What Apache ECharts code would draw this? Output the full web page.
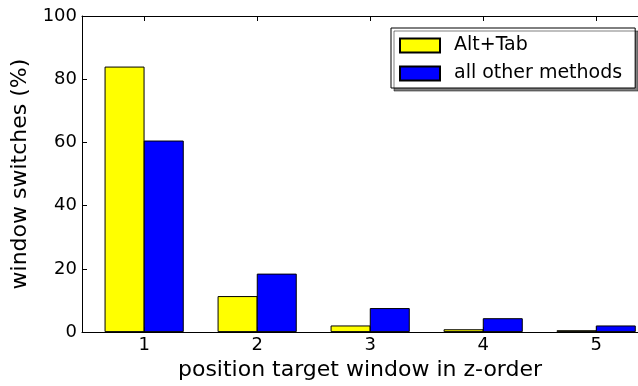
<!DOCTYPE html>
<html><head><meta charset="utf-8">
<script src="https://cdn.jsdelivr.net/npm/echarts@6/dist/echarts.min.js"></script>
<style>html,body{margin:0;padding:0;background:#fff}#c{width:638px;height:386px}</style>
</head><body><div id="c"></div>
<script>
const positions = [1, 2, 3, 4, 5];
const altTab = [84.0, 11.4, 2.1, 0.9, 0.6];
const otherMethods = [60.6, 18.5, 7.6, 4.4, 2.1];
const yTicks = [0, 20, 40, 60, 80, 100];
const seriesNames = ['Alt+Tab', 'all other methods'];

const font = 'DejaVu Sans';
const chart = echarts.init(document.getElementById('c'), null, {renderer: 'canvas'});
const barW = 40;
const axisCommon = {
  type: 'value', min: 0.45, max: 5.37,
  splitLine: {show: false},
  axisLine: {show: true, onZero: false, lineStyle: {color: '#000', width: 1}},
  axisTick: {show: true, inside: true, length: 5, lineStyle: {color: '#000'}, customValues: positions},
};
chart.setOption({
  animation: false,
  textStyle: {fontFamily: font},
  grid: {left: 82, right: 0, top: 16, bottom: 52, containLabel: false},
  legend: {
    orient: 'vertical', left: 391, top: 28,
    itemWidth: 40, itemHeight: 14, itemGap: 9,
    icon: 'rect',
    padding: [8, 13, 5, 8],
    backgroundColor: '#fff', borderColor: '#000', borderWidth: 1, borderRadius: 0,
    shadowColor: 'rgba(0,0,0,0.5)', shadowBlur: 0, shadowOffsetX: 3, shadowOffsetY: 3,
    textStyle: {fontFamily: font, fontSize: 19, color: '#000', padding: [0, 0, 0, 9]},
    data: seriesNames
  },
  xAxis: [
    Object.assign({}, axisCommon, {
      position: 'bottom',
      name: 'position target window in z-order', nameLocation: 'middle', nameGap: 25,
      nameTextStyle: {fontFamily: font, fontSize: 22, color: '#000'},
      axisLabel: {show: true, color: '#000', fontFamily: font, fontSize: 18, margin: 4,
        customValues: positions, formatter: v => String(v)}
    }),
    Object.assign({}, axisCommon, {
      position: 'top', axisLabel: {show: false}
    })
  ],
  yAxis: {
    type: 'value', min: 0, max: 100, interval: 20,
    name: 'window switches (%)', nameLocation: 'middle', nameGap: 46,
    nameTextStyle: {fontFamily: font, fontSize: 22, color: '#000'},
    splitLine: {show: false},
    axisLine: {show: true, lineStyle: {color: '#000'}},
    axisTick: {show: true, inside: true, length: 5, lineStyle: {color: '#000'}},
    axisLabel: {color: '#000', fontFamily: font, fontSize: 18, margin: 5,
      formatter: v => yTicks.includes(v) ? String(v) : ''}
  },
  series: [
    {
      name: seriesNames[0], type: 'bar', xAxisIndex: 0,
      data: positions.map((p, i) => [p, altTab[i]]),
      barWidth: barW, barGap: '-2%',
      itemStyle: {color: '#ffff00', borderColor: '#000', borderWidth: 1}
    },
    {
      name: seriesNames[1], type: 'bar', xAxisIndex: 0,
      data: positions.map((p, i) => [p, otherMethods[i]]),
      barWidth: barW, barGap: '-2%',
      itemStyle: {color: '#0000ff', borderColor: '#000', borderWidth: 1}
    }
  ]
});
</script></body></html>
